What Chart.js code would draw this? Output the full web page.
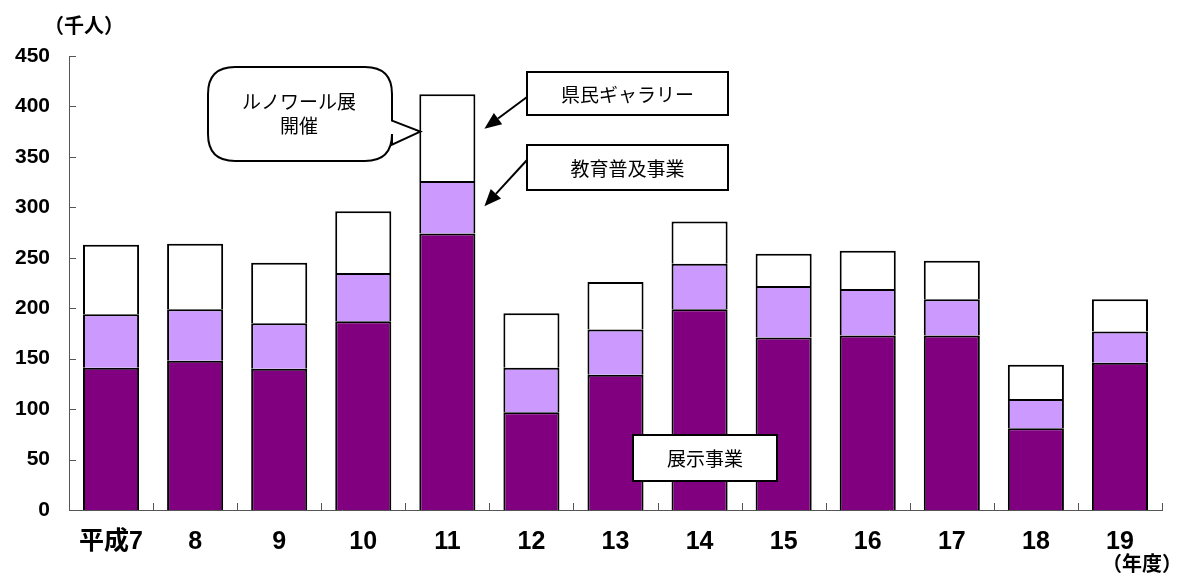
<!DOCTYPE html>
<html>
<head>
<meta charset="utf-8">
<script src="https://cdn.jsdelivr.net/npm/chart.js@4"></script>
<style>
  html, body { margin: 0; padding: 0; background: #fff; }
  #wrap { width: 1177px; height: 576px; }
</style>
</head>
<body>
<div id="wrap"><canvas id="visitors" width="1177" height="576"></canvas></div>
<script>
// ── DATA ──
const years = ['平成7', '8', '9', '10', '11', '12', '13', '14', '15', '16', '17', '18', '19'];
const exhibit = [141, 148, 140, 187, 274, 97, 134, 199, 171, 173, 173, 81, 146];   // 展示事業
const education = [53, 51, 45, 48, 52, 44, 45, 45, 51, 46, 36, 29, 31];            // 教育普及事業
const gallery = [69, 65, 60, 61, 86, 54, 47, 42, 32, 38, 38, 34, 32];              // 県民ギャラリー
const yTicks = [0, 50, 100, 150, 200, 250, 300, 350, 400, 450];

const LABEL_FONT = '"Liberation Sans", Arial, "Noto Sans CJK JP", sans-serif';
const XLABEL_FONT = '"Liberation Sans Narrow", "Liberation Sans", "Noto Sans CJK JP", sans-serif';
const NOTE_FONT = '"Noto Sans CJK JP", sans-serif';

// ── helpers ──
function arrow(ctx, x0, y0, x1, y1) {
  const a = Math.atan2(y1 - y0, x1 - x0);
  const len = 17, half = 7;
  const bx = x1 - len * Math.cos(a), by = y1 - len * Math.sin(a);
  ctx.beginPath();
  ctx.moveTo(x0, y0);
  ctx.lineTo(bx, by);
  ctx.stroke();
  ctx.beginPath();
  ctx.moveTo(x1, y1);
  ctx.lineTo(bx + half * Math.sin(a), by - half * Math.cos(a));
  ctx.lineTo(bx - half * Math.sin(a), by + half * Math.cos(a));
  ctx.closePath();
  ctx.fill();
}

function textBox(ctx, x, y, w, h, text) {
  ctx.fillStyle = '#fff';
  ctx.fillRect(x, y, w, h);
  ctx.strokeRect(x, y, w, h);
  ctx.fillStyle = '#000';
  ctx.fillText(text, x + w / 2, y + h / 2 + 1);
}

// ── PLUGIN: inner tick marks, unit labels, callouts ──
const extras = {
  id: 'extras',
  afterDraw(chart) {
    const { ctx, scales: { x, y }, chartArea: ca } = chart;
    ctx.save();

    // inward tick marks
    ctx.strokeStyle = '#555';
    ctx.lineWidth = 1;
    ctx.beginPath();
    yTicks.forEach(v => {
      const py = Math.round(y.getPixelForValue(v)) + 0.5;
      ctx.moveTo(ca.left, py);
      ctx.lineTo(ca.left + 7, py);
    });
    const step = (ca.right - ca.left) / years.length;
    for (let i = 1; i <= years.length; i++) {
      const px = Math.round(x.getPixelForValue(i - 1) + step / 2) + 0.5;
      ctx.moveTo(px, ca.bottom);
      ctx.lineTo(px, ca.bottom - 7);
    }
    ctx.stroke();

    // unit labels
    ctx.fillStyle = '#000';
    ctx.font = 'bold 20px ' + LABEL_FONT;
    ctx.textBaseline = 'middle';
    ctx.textAlign = 'left';
    ctx.fillText('（千人）', 44, 27);
    ctx.fillText('（年度）', 1102, 565);

    // callouts anchored on the 平成11 bar
    const bar = chart.getDatasetMeta(2).data[4];
    const left = bar.x - bar.width / 2;
    const right = bar.x + bar.width / 2;

    ctx.lineWidth = 2;
    ctx.strokeStyle = '#000';
    ctx.font = '19px ' + NOTE_FONT;
    ctx.textAlign = 'center';

    // speech bubble
    const bx0 = 208, by0 = 67, bx1 = 392, by1 = 161, r = 27;
    const tipY = y.getPixelForValue(375);
    ctx.beginPath();
    ctx.moveTo(bx0 + r, by0);
    ctx.lineTo(bx1 - r, by0);
    ctx.quadraticCurveTo(bx1, by0, bx1, by0 + r);
    ctx.lineTo(bx1, tipY - 11);
    ctx.lineTo(left + 1, tipY);
    ctx.lineTo(bx1, tipY + 13);
    ctx.lineTo(bx1, by1 - r);
    ctx.quadraticCurveTo(bx1, by1, bx1 - r, by1);
    ctx.lineTo(bx0 + r, by1);
    ctx.quadraticCurveTo(bx0, by1, bx0, by1 - r);
    ctx.lineTo(bx0, by0 + r);
    ctx.quadraticCurveTo(bx0, by0, bx0 + r, by0);
    ctx.closePath();
    ctx.fillStyle = '#fff';
    ctx.fill();
    ctx.stroke();
    ctx.fillStyle = '#000';
    ctx.fillText('ルノワール展', 299, 102);
    ctx.fillText('開催', 299, 126);

    // series labels with arrows
    textBox(ctx, 527, 72, 201, 43, '県民ギャラリー');
    textBox(ctx, 527, 145, 201, 45, '教育普及事業');
    textBox(ctx, 633, 435, 144, 46, '展示事業');
    ctx.fillStyle = '#000';
    arrow(ctx, 527, 97, right + 9, y.getPixelForValue(378));
    arrow(ctx, 527, 160, right + 9, y.getPixelForValue(301));

    ctx.restore();
  }
};

// ── CHART ──
const seriesStyle = { borderColor: '#000', borderWidth: 2, barPercentage: 0.667, categoryPercentage: 1 };

new Chart(document.getElementById('visitors').getContext('2d'), {
  type: 'bar',
  data: {
    labels: years,
    datasets: [
      { label: '展示事業', data: exhibit, backgroundColor: '#800080', ...seriesStyle },
      { label: '教育普及事業', data: education, backgroundColor: '#CC99FF', ...seriesStyle },
      { label: '県民ギャラリー', data: gallery, backgroundColor: '#FFFFFF', ...seriesStyle }
    ]
  },
  options: {
    responsive: false,
    animation: false,
    layout: { padding: { top: 56, right: 15, bottom: 0, left: 0 } },
    plugins: {
      legend: { display: false },
      tooltip: { enabled: false }
    },
    scales: {
      x: {
        stacked: true,
        grid: { display: false, drawTicks: false },
        border: { display: true, color: '#555', width: 1 },
        ticks: { color: '#000', font: { family: XLABEL_FONT, size: 25, weight: 'bold' }, padding: 17, maxRotation: 0 },
        afterFit: s => { s.height = 66; }
      },
      y: {
        stacked: true,
        min: 0,
        max: 450,
        grid: { display: false, drawTicks: false },
        border: { display: true, color: '#555', width: 1 },
        ticks: { stepSize: 50, color: '#000', font: { family: LABEL_FONT, size: 21, weight: 'bold' }, padding: 19 },
        afterFit: s => { s.width = 69; }
      }
    }
  },
  plugins: [extras]
});
</script>
</body>
</html>
